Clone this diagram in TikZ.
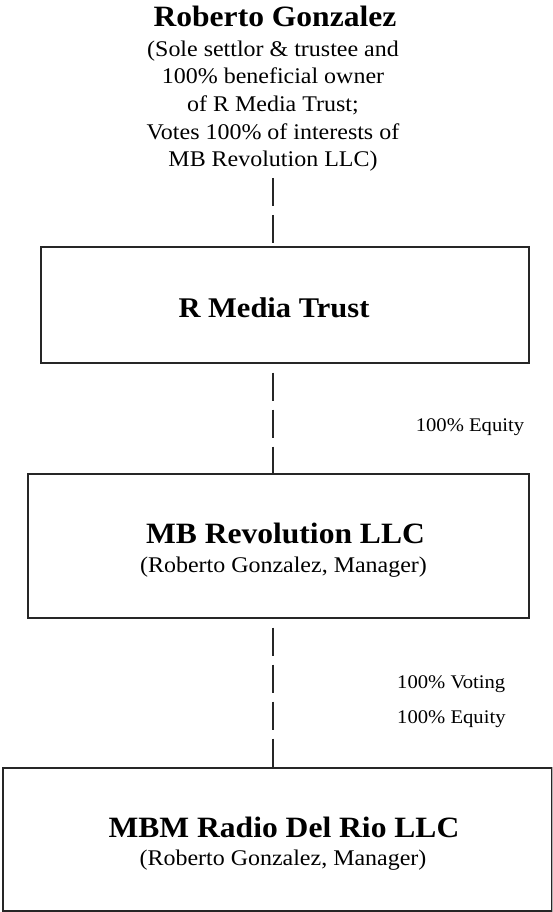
\documentclass[tikz,border=0pt]{standalone}
\usepackage{fontspec}
\setmainfont{Liberation Serif}[FakeStretch=1.07]
\usetikzlibrary{positioning}

\begin{document}
\begin{tikzpicture}[x=1pt,y=1pt,
   box/.style={draw=black!85,line width=1.3pt,rectangle,inner sep=0pt},
   link/.style={draw=black!85,line width=1.1pt,dash pattern=on 28pt off 9pt},
   head/.style={font=\fontsize{29.5}{33}\selectfont\bfseries,inner sep=0pt,anchor=base},
   sub/.style={font=\fontsize{22.4}{27.7}\selectfont,inner sep=0pt,anchor=base},
   share/.style={font=\fontsize{19.3}{35}\selectfont,inner sep=0pt}]
   \useasboundingbox (0,0) rectangle (553,-912);
   \node[head] (g_owner) at (275,-27) {Roberto Gonzalez};
   \node[sub,align=center] (g_info) at (273,-167) {(Sole settlor \& trustee and\\100\% beneficial owner\\of R Media Trust;\\Votes 100\% of interests of\\MB Revolution LLC)};
   \node[box,minimum width=488pt,minimum height=116pt] (g_trust) at (285,-305) {};
   \node[head,font=\fontsize{28.5}{32}\selectfont\bfseries] (g_trust_name) at (274,-317) {R Media Trust};
   \node[box,minimum width=501pt,minimum height=144pt] (g_revo) at (278.5,-546) {};
   \node[head] (g_revo_name) at (285.5,-543) {MB Revolution LLC};
   \node[sub] (g_revo_mgr) at (283.5,-572) {(Roberto Gonzalez, Manager)};
   \node[box,minimum width=549pt,minimum height=143pt] (g_radio) at (277.5,-839.5) {};
   \node[head] (g_radio_name) at (284,-837) {MBM Radio Del Rio LLC};
   \node[sub] (g_radio_mgr) at (283,-865) {(Roberto Gonzalez, Manager)};
   \draw[black!30,line width=1.3pt] (g_radio.north east) -- (g_radio.south east);
   \node[share,anchor=base] (g_eq_1) at (470,-431) {100\% Equity};
   \node[share,anchor=base west,align=left] (g_eq_2) at (397,-723) {100\% Voting\\100\% Equity};
   \draw[link,shorten <=6pt] (g_info.south) -- (g_info.south |- g_trust.north);
   \draw[link,dash phase=28pt] (g_trust.south -| g_info.south) -- (g_revo.north -| g_info.south);
   \draw[link,dash phase=28pt] (g_revo.south -| g_info.south) -- (g_radio.north -| g_info.south);
\end{tikzpicture}
\end{document}
